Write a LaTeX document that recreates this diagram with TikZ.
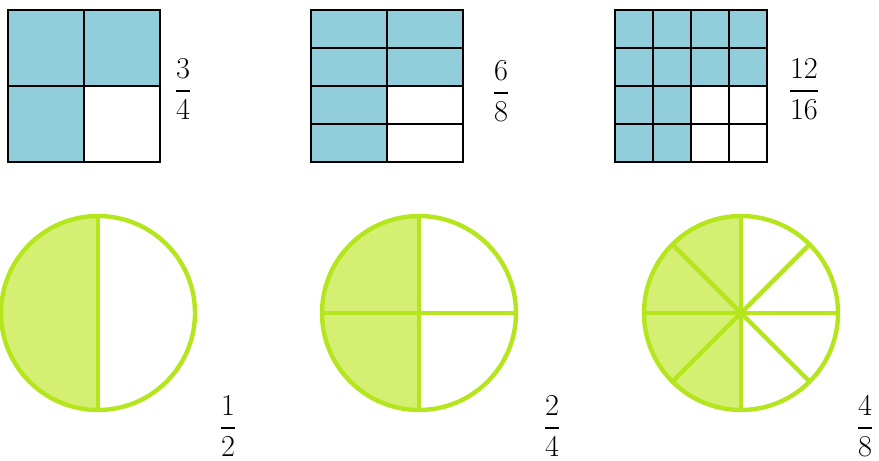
\documentclass[tikz,border=0pt]{standalone}
\usepackage{amsmath}
\usepackage{xcolor}
\usetikzlibrary{positioning}
\definecolor{cellBlue}{HTML}{92CDDC}
\definecolor{limeLine}{HTML}{B5E61D}
\definecolor{limeFill}{HTML}{D4EF72}

\begin{document}
\begin{tikzpicture}[font=\fontsize{19}{23}\selectfont,
  gridline/.style={draw=black,line width=1.1pt},
  pie/.style={draw=limeLine,line width=2.5pt},
  cell/.style={fill=cellBlue}]
\useasboundingbox (0,0) rectangle (17.58,9.2);
% squares: 3/4, 6/8, 12/16
\begin{scope}[shift={(0.16,5.96)},x=0.76cm,y=0.76cm]
\fill[cell] (0,2) rectangle (4,4);
\fill[cell] (0,0) rectangle (2,2);
\draw[gridline] (0,0) rectangle (4,4) (2,0) -- (2,4) (0,2) -- (4,2);
\end{scope}
\node (f34) at (3.66,7.42) {$\dfrac{3}{4}$};
\begin{scope}[shift={(6.22,5.96)},x=0.76cm,y=0.76cm]
\fill[cell] (0,2) rectangle (4,4);
\fill[cell] (0,0) rectangle (2,2);
\draw[gridline] (0,0) rectangle (4,4) (2,0) -- (2,4);
\foreach \r in {1,2,3} \draw[gridline] (0,\r) -- (4,\r);
\end{scope}
\node (f68) at (10.02,7.38) {$\dfrac{6}{8}$};
\begin{scope}[shift={(12.3,5.96)},x=0.76cm,y=0.76cm]
\fill[cell] (0,2) rectangle (4,4);
\fill[cell] (0,0) rectangle (2,2);
\draw[gridline] (0,0) rectangle (4,4);
\foreach \r in {1,2,3} \draw[gridline] (0,\r) -- (4,\r) (\r,0) -- (\r,4);
\end{scope}
\node (f1216) at (16.08,7.42) {$\dfrac{12}{16}$};
% circles: 1/2, 2/4, 4/8
\coordinate (c1) at (1.96,2.94);
\coordinate (c2) at (8.38,2.94);
\coordinate (c3) at (14.82,2.94);
\foreach \c in {c1,c2,c3}
  \fill[limeFill] (\c) -- ++(90:1.94) arc (90:270:1.94) -- cycle;
\draw[pie] (c1) circle (1.94);
\draw[pie] (c1) ++(90:1.94) -- ++(0,-3.88);
\node (f12) at (4.56,0.68) {$\dfrac{1}{2}$};
\draw[pie] (c2) circle (1.94);
\foreach \a in {0,90,180,270} \draw[pie] (c2) -- ++(\a:1.94);
\node (f24) at (11.04,0.68) {$\dfrac{2}{4}$};
\draw[pie] (c3) circle (1.94);
\foreach \a in {0,45,...,315} \draw[pie] (c3) -- ++(\a:1.94);
\node (f48) at (17.3,0.68) {$\dfrac{4}{8}$};
\end{tikzpicture}
\end{document}
